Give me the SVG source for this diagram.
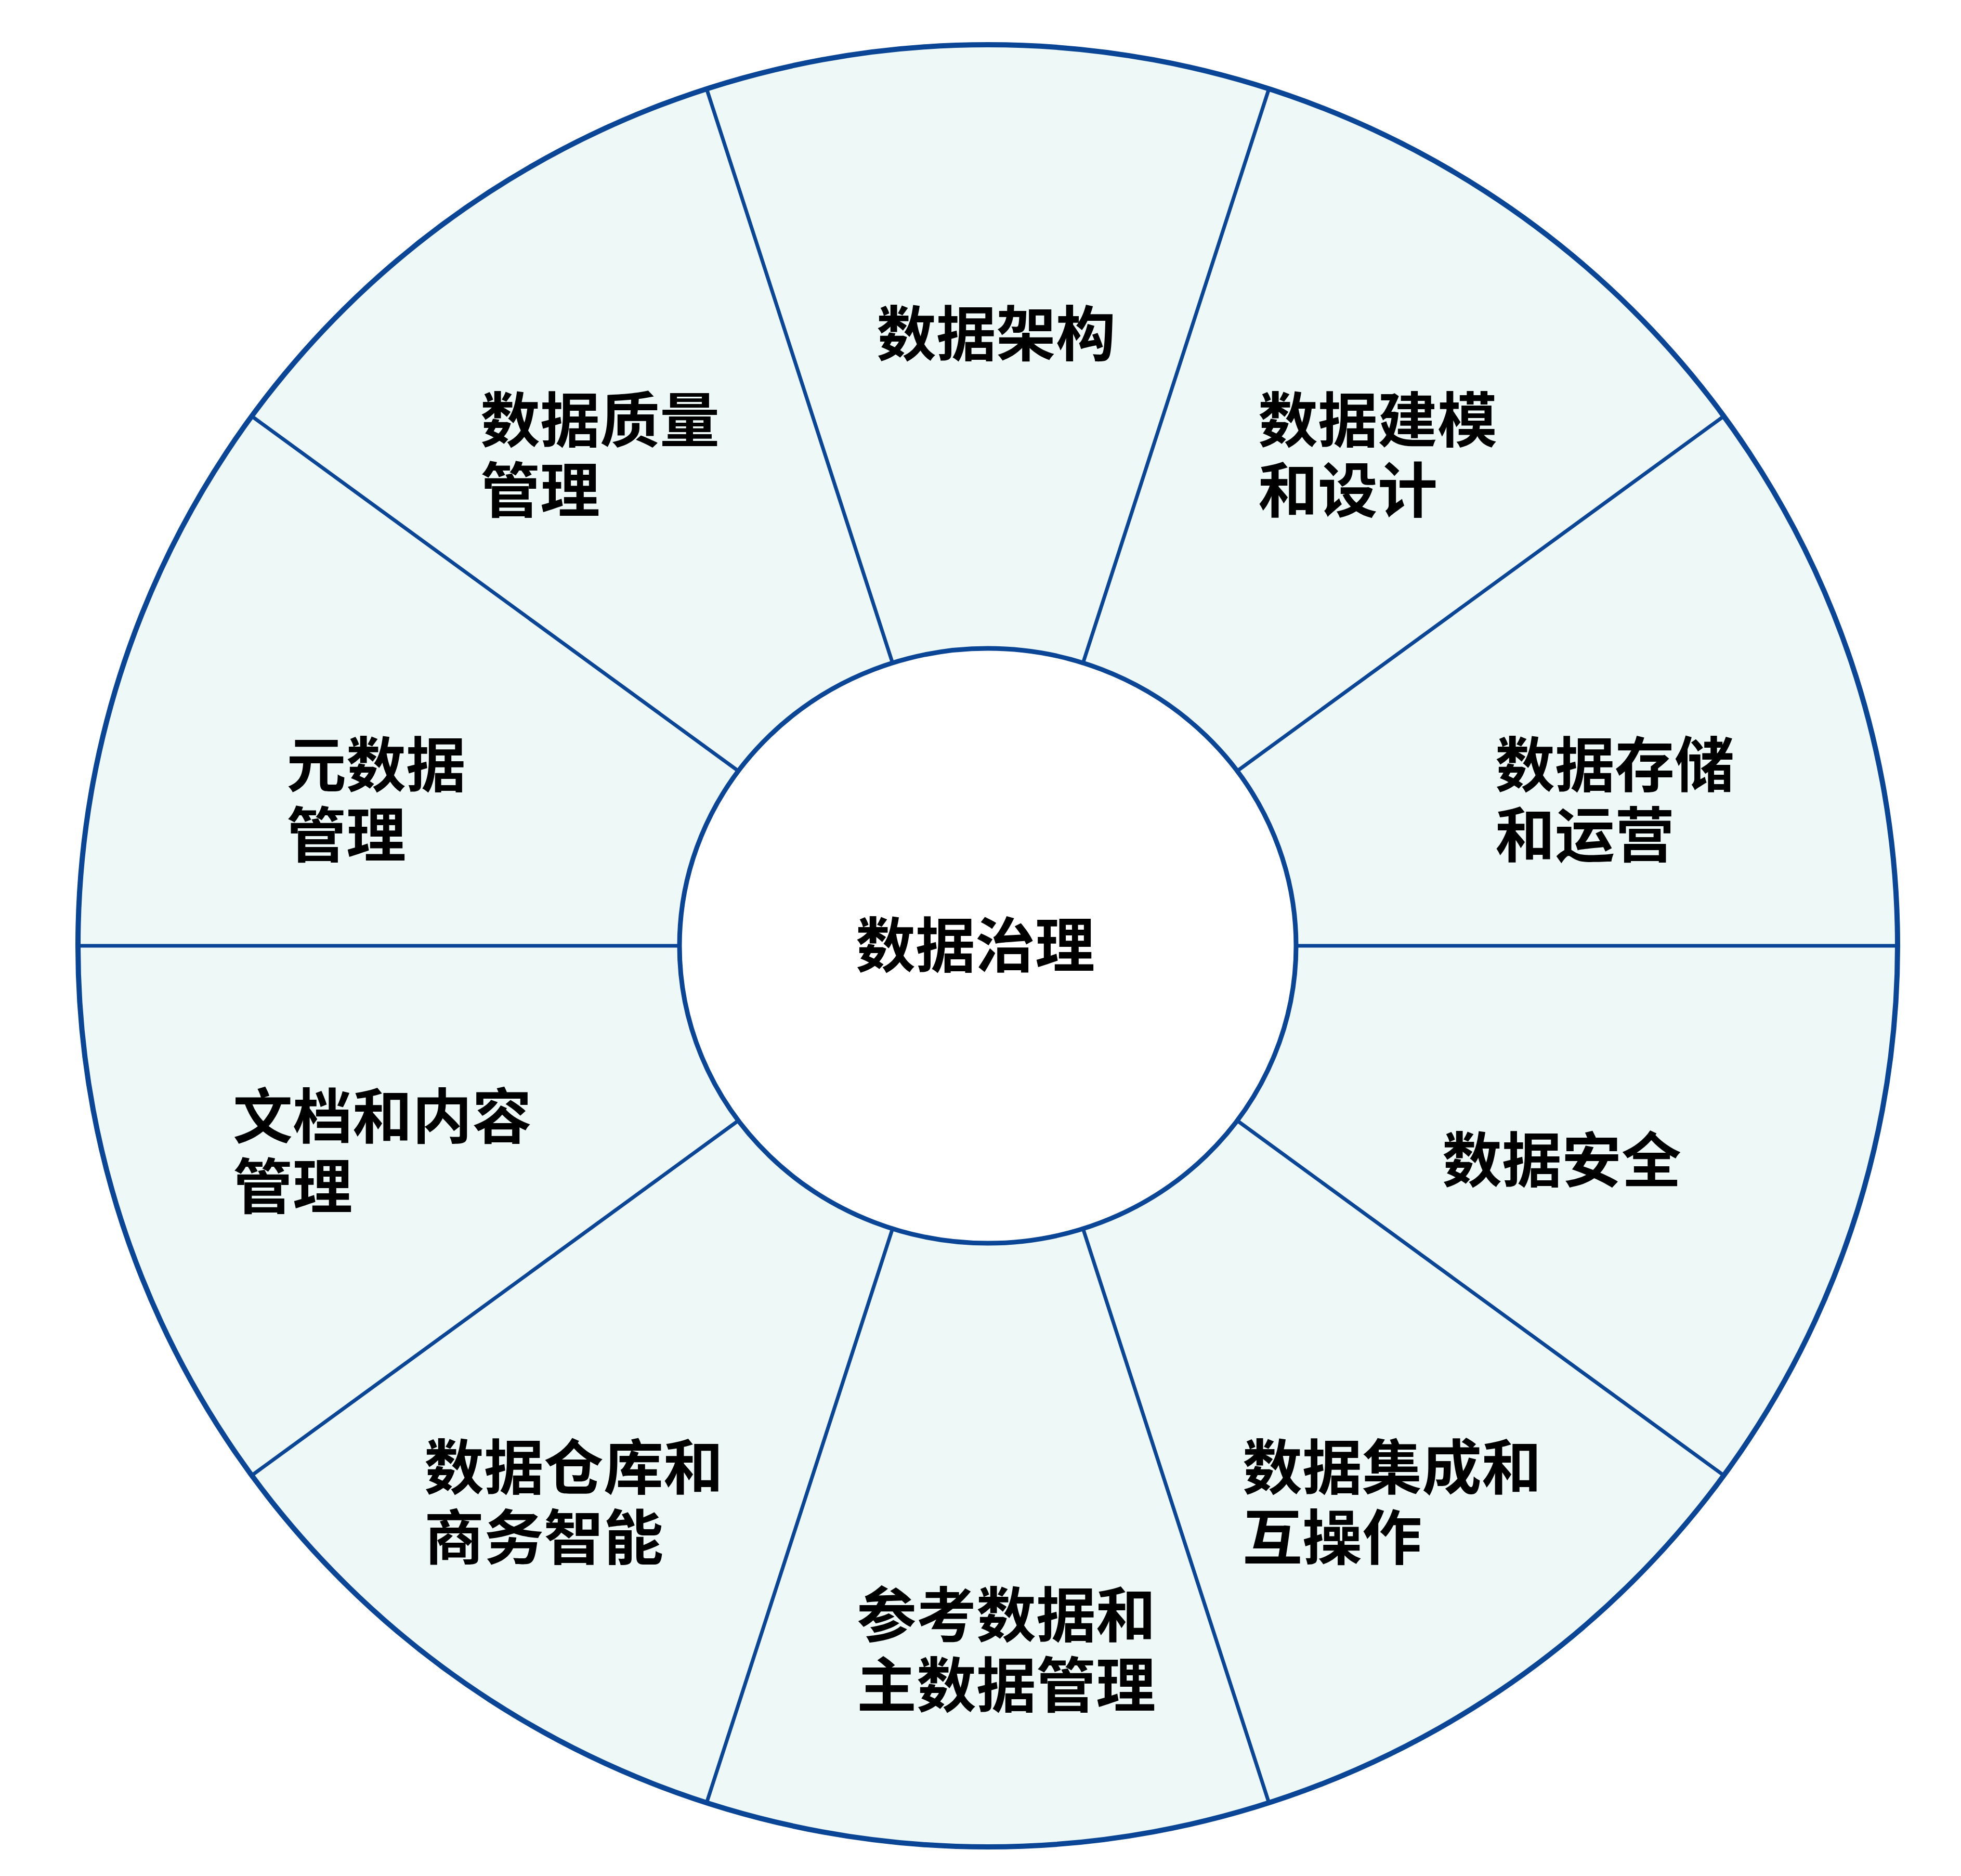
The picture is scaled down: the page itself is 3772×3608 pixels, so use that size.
<svg xmlns="http://www.w3.org/2000/svg" width="3772" height="3608" viewBox="0 0 3772 3608">
  <style>
    .ring { fill: #edf8f7; stroke: #0b4696; stroke-width: 10; }
    .hub { fill: #ffffff; stroke: #0b4696; stroke-width: 9; }
    .spoke { stroke: #0b4696; stroke-width: 7; fill: none; }
    .lbl { font-family: "Noto Sans CJK SC", "Noto Sans", sans-serif; font-weight: bold; font-size: 115px; fill: #000000; }
  </style>
  <rect x="0" y="0" width="3772" height="3608" fill="#ffffff"/>
  <ellipse id="outer-ring" class="ring" cx="1900" cy="1819" rx="1750" ry="1733"/>
  <g id="connectors">
    <line class="spoke" x1="2493" y1="1819" x2="3650" y2="1819"/>
    <line class="spoke" x1="2379.7" y1="1482.8" x2="3315.8" y2="800.4"/>
    <line class="spoke" x1="2083.2" y1="1275" x2="2440.8" y2="170.8"/>
    <line class="spoke" x1="1716.8" y1="1275" x2="1359.2" y2="170.8"/>
    <line class="spoke" x1="1420.3" y1="1482.8" x2="484.2" y2="800.4"/>
    <line class="spoke" x1="1307" y1="1819" x2="150" y2="1819"/>
    <line class="spoke" x1="1420.3" y1="2155.2" x2="484.2" y2="2837.6"/>
    <line class="spoke" x1="1716.8" y1="2363" x2="1359.2" y2="3467.2"/>
    <line class="spoke" x1="2083.2" y1="2363" x2="2440.8" y2="3467.2"/>
    <line class="spoke" x1="2379.7" y1="2155.2" x2="3315.8" y2="2837.6"/>
  </g>
  <g id="node-center">
    <ellipse class="hub" cx="1900" cy="1819" rx="593" ry="572"/>
    <text class="lbl" x="1646" y="1860">数据治理</text>
  </g>
  <g id="node-architecture">
    <text class="lbl" x="1686" y="684">数据架构</text>
  </g>
  <g id="node-modeling">
    <text class="lbl" x="2420" y="850">数据建模</text>
    <text class="lbl" x="2420" y="985">和设计</text>
  </g>
  <g id="node-storage">
    <text class="lbl" x="2876" y="1513">数据存储</text>
    <text class="lbl" x="2876" y="1648">和运营</text>
  </g>
  <g id="node-security">
    <text class="lbl" x="2774" y="2273">数据安全</text>
  </g>
  <g id="node-integration">
    <text class="lbl" x="2390" y="2864">数据集成和</text>
    <text class="lbl" x="2390" y="2999">互操作</text>
  </g>
  <g id="node-master-data">
    <text class="lbl" x="1648" y="3148">参考数据和</text>
    <text class="lbl" x="1648" y="3283">主数据管理</text>
  </g>
  <g id="node-warehouse">
    <text class="lbl" x="816" y="2864">数据仓库和</text>
    <text class="lbl" x="816" y="2999">商务智能</text>
  </g>
  <g id="node-document">
    <text class="lbl" x="448" y="2189">文档和内容</text>
    <text class="lbl" x="448" y="2324">管理</text>
  </g>
  <g id="node-metadata">
    <text class="lbl" x="551" y="1513">元数据</text>
    <text class="lbl" x="551" y="1648">管理</text>
  </g>
  <g id="node-quality">
    <text class="lbl" x="924" y="850">数据质量</text>
    <text class="lbl" x="924" y="985">管理</text>
  </g>
</svg>
